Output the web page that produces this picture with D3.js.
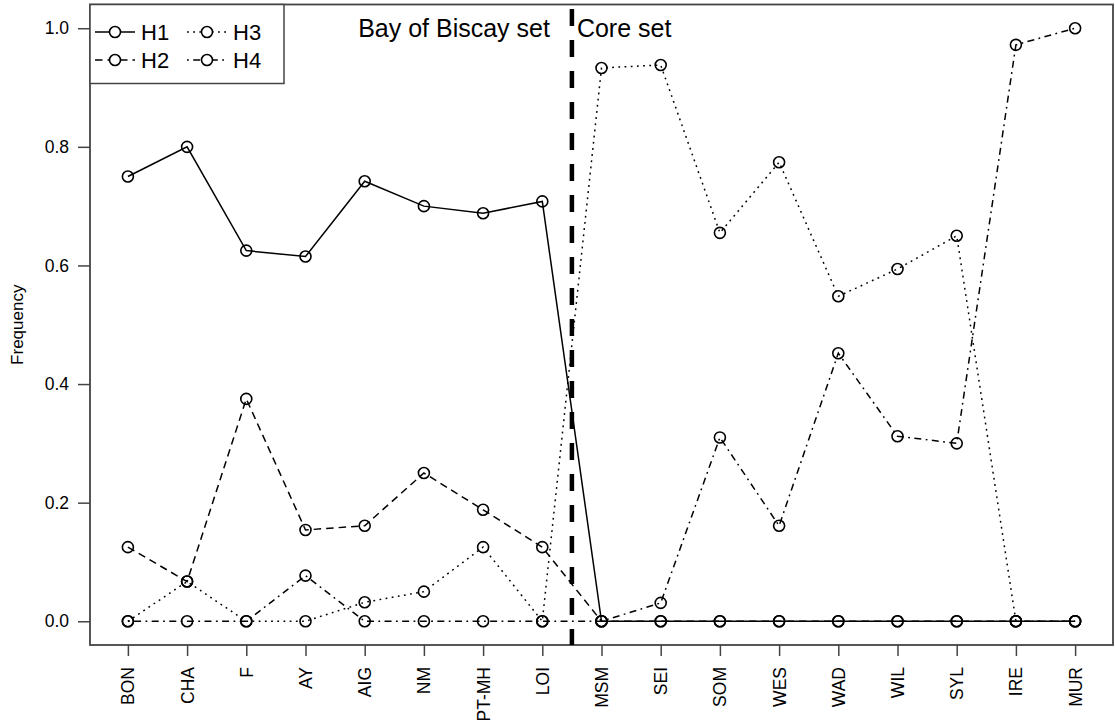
<!DOCTYPE html>
<html>
<head>
<meta charset="utf-8">
<script src="https://cdn.jsdelivr.net/npm/d3@7"></script>
<style>
  body { margin: 0; background: #fff; }
  text { font-family: "Liberation Sans", Arial, sans-serif; fill: #000; }
</style>
</head>
<body>
<div id="chart"></div>
<script>
// sites along the x axis
var sites = ["BON", "CHA", "F", "AY", "AIG", "NM", "PT-MH", "LOI",
             "MSM", "SEI", "SOM", "WES", "WAD", "WIL", "SYL", "IRE", "MUR"];

// haplotype frequencies per site
var h1 = [0.75, 0.80, 0.625, 0.615, 0.742, 0.70, 0.688, 0.708, 0, 0, 0, 0, 0, 0, 0, 0, 0];
var h2 = [0.125, 0.067, 0.375, 0.154, 0.161, 0.25, 0.188, 0.125, 0, 0, 0, 0, 0, 0, 0, 0, 0];
var h3 = [0, 0.067, 0, 0, 0.032, 0.05, 0.125, 0, 0.933, 0.938, 0.655, 0.774, 0.548, 0.594, 0.65, 0, 0];
var h4 = [0, 0, 0, 0.077, 0, 0, 0, 0, 0, 0.031, 0.31, 0.161, 0.452, 0.312, 0.30, 0.972, 1.0];

var yTicks = [0, 0.2, 0.4, 0.6, 0.8, 1.0];

var series = [
  {name: "H1", values: h1, dash: null},
  {name: "H2", values: h2, dash: "7.5,5"},
  {name: "H3", values: h3, dash: "1.8,4.4"},
  {name: "H4", values: h4, dash: "1.8,4.4,7,4.4"}
];

var width = 1115, height = 725;
var box = {left: 90, right: 1113, top: 4.5, bottom: 645};

var svg = d3.select("#chart")
  .append("svg")
  .attr("width", width)
  .attr("height", height);

var x = d3.scaleLinear()
  .domain([0.36, 17.64])
  .range([box.left, box.right]);

var y = d3.scaleLinear()
  .domain([-0.04, 1.04])
  .range([box.bottom, box.top]);

// y axis
var yAxis = svg.append("g")
  .attr("transform", "translate(" + box.left + ",0)")
  .call(d3.axisLeft(y).tickValues(yTicks).tickFormat(d3.format(".1f")).tickSize(12).tickPadding(9));
yAxis.select(".domain").remove();
yAxis.selectAll("line").attr("stroke", "#444").attr("stroke-width", 1.5);
yAxis.selectAll("text").attr("font-size", 17.5).attr("fill", "#000");

// x axis
var xAxis = svg.append("g")
  .attr("transform", "translate(0," + box.bottom + ")")
  .call(d3.axisBottom(x).tickValues(d3.range(1, sites.length + 1))
    .tickFormat(function(d) { return sites[d - 1]; }).tickSize(11));
xAxis.select(".domain").remove();
xAxis.selectAll("line").attr("stroke", "#444").attr("stroke-width", 1.5);
xAxis.selectAll("text")
  .attr("font-size", 17.5)
  .attr("fill", "#000")
  .attr("text-anchor", "end")
  .attr("dy", null)
  .attr("y", 0)
  .attr("transform", "translate(6,22) rotate(-90)");

// plot box
svg.append("rect")
  .attr("x", box.left).attr("y", box.top)
  .attr("width", box.right - box.left).attr("height", box.bottom - box.top)
  .attr("fill", "none").attr("stroke", "#444").attr("stroke-width", 1.8);

svg.append("text")
  .attr("transform", "translate(23," + ((box.top + box.bottom) / 2) + ") rotate(-90)")
  .attr("text-anchor", "middle")
  .style("font-size", "17px")
  .text("Frequency");

var line = d3.line()
  .x(function(d, i) { return x(i + 1); })
  .y(function(d) { return y(d); });

series.forEach(function(s) {
  svg.append("path")
    .datum(s.values)
    .attr("d", line)
    .attr("fill", "none")
    .attr("stroke", "#000")
    .attr("stroke-width", 1.5)
    .attr("stroke-dasharray", s.dash);

  svg.append("g")
    .selectAll("circle")
    .data(s.values)
    .enter()
    .append("circle")
      .attr("cx", function(d, i) { return x(i + 1); })
      .attr("cy", function(d) { return y(d); })
      .attr("r", 5.5)
      .attr("fill", "none")
      .attr("stroke", "#000")
      .attr("stroke-width", 1.6);
});

// split between the two sets
svg.append("line")
  .attr("x1", x(8.5)).attr("x2", x(8.5))
  .attr("y1", 9).attr("y2", box.bottom)
  .attr("stroke", "#000").attr("stroke-width", 4.5)
  .attr("stroke-dasharray", "17,14");

svg.append("text")
  .attr("x", x(8.5) - 22).attr("y", 37)
  .attr("text-anchor", "end")
  .style("font-size", "25px")
  .text("Bay of Biscay set");
svg.append("text")
  .attr("x", x(8.5) + 5).attr("y", 37)
  .style("font-size", "25px")
  .text("Core set");

// legend
var legend = svg.append("g");
legend.append("rect")
  .attr("x", box.left).attr("y", box.top)
  .attr("width", 194).attr("height", 79)
  .attr("fill", "#fff").attr("stroke", "#444").attr("stroke-width", 1.5);

var legendPos = [[95, 32], [95, 60], [187, 32], [187, 60]];
series.forEach(function(s, i) {
  var p = legendPos[i];
  var g = legend.append("g").attr("transform", "translate(" + p[0] + "," + p[1] + ")");
  g.append("line")
    .attr("x1", 0).attr("x2", 40).attr("y1", 0).attr("y2", 0)
    .attr("stroke", "#000").attr("stroke-width", 1.5)
    .attr("stroke-dasharray", s.dash);
  g.append("circle")
    .attr("cx", 20).attr("cy", 0).attr("r", 5.5)
    .attr("fill", "#fff").attr("stroke", "#000").attr("stroke-width", 1.6);
  g.append("text")
    .attr("x", 46).attr("y", 8)
    .style("font-size", "22px")
    .text(s.name);
});
</script>
</body>
</html>
